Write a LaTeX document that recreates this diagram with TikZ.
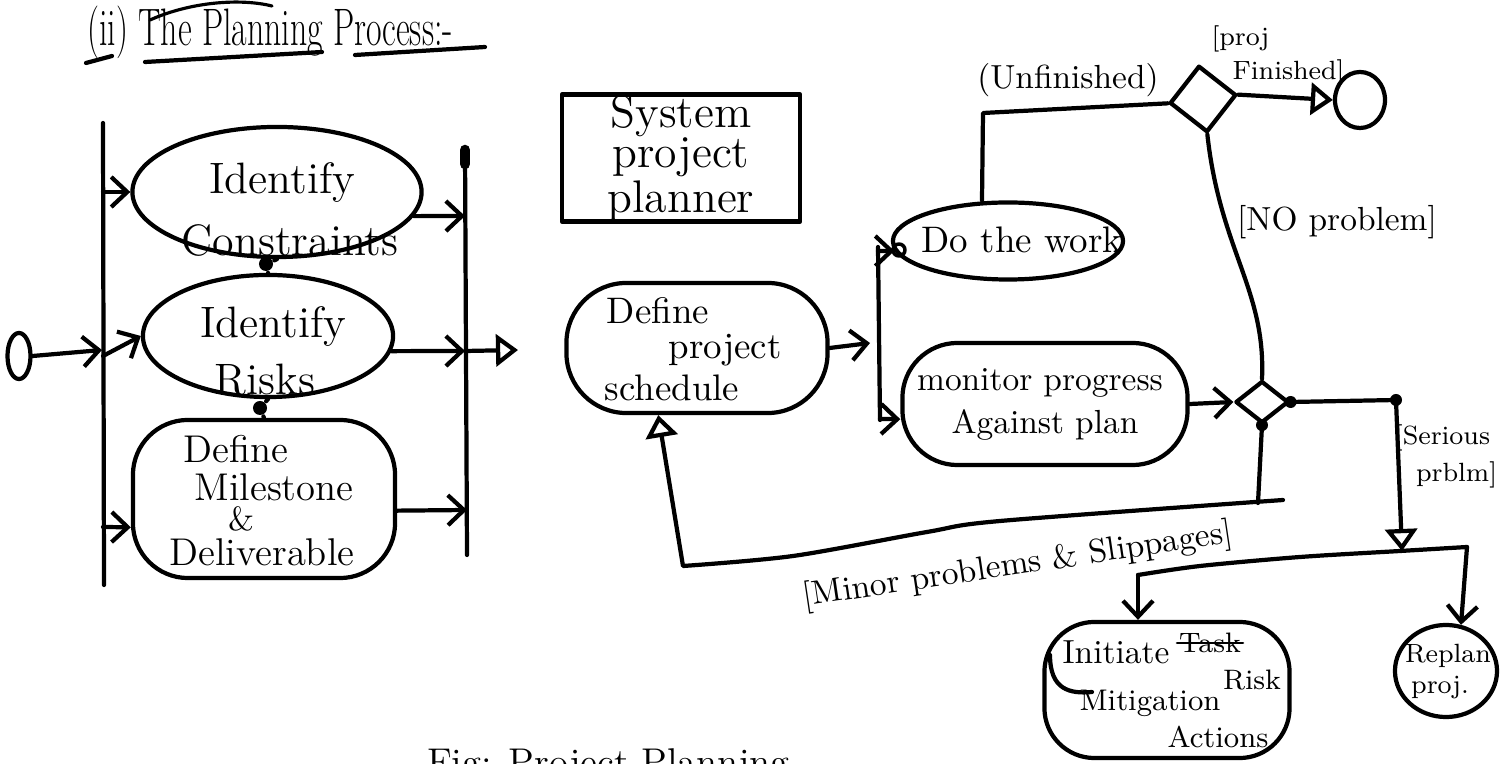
\documentclass[tikz,border=0pt]{standalone}
\usetikzlibrary{arrows.meta,shapes.geometric}
\begin{document}
\begin{tikzpicture}[x=0.01cm,y=-0.01cm,
  line width=1.2pt, line cap=round, line join=round,
  every node/.style={inner sep=0pt},
  arr/.style={-{Straight Barb[length=1.6mm,width=3mm]}},
  tri/.style={-{Triangle[open,length=2.2mm,width=3.2mm]}},
  ell/.style={draw, ellipse},
  act/.style={draw, rectangle, rounded corners=#1},
  txt/.style={font=\fontsize{#1}{#1}\selectfont},
  jdot/.style={circle, fill, minimum size=1.4mm},
]
\useasboundingbox (0,0) rectangle (1502,764);
\clip (0,0) rectangle (1502,764);

% heading
\node[txt=15, xscale=0.64, anchor=base west] (title) at (86,46) {(ii) The Planning Process:-};
\draw (86,63) -- (112,56);
\draw (145,62) -- (322,52);
\draw (355,55) -- (485,47);
\draw[line width=0.9pt] (150,20) .. controls (190,2) and (240,-2) .. (272,6);

% start node and first fork
\node[ell, minimum width=0.23cm, minimum height=0.46cm] (start) at (19,356) {};
\coordinate (fa1) at (103,123);
\coordinate (fa2) at (104,585);
\coordinate (fain) at (102,350);
\draw (fa1) -- (fa2);
\draw[arr] (start.east) -- (fain);

% parallel planning activities
\node[ell, minimum width=2.89cm, minimum height=1.3cm] (idc) at (277,192) {};
\node[txt=12.5] (idct1) at (282,183) {Identify};
\node[txt=12.5] (idct2) at (290,240) {Constraints};

\node[ell, minimum width=2.5cm, minimum height=1.22cm] (idr) at (268,336) {};
\node[txt=12.5] (idrt1) at (273,327) {Identify};
\node[txt=12.5] (idrt2) at (265,380) {Risks};

\node[act=0.55cm, minimum width=2.62cm, minimum height=1.58cm] (dm) at (264,499) {};
\node[txt=11] (dmt1) at (236,449) {Define};
\node[txt=11] (dmt2) at (274,487) {Milestone};
\node[txt=9.5] (dmt3) at (241,519) {\&};
\node[txt=11] (dmt4) at (262,552) {Deliverable};

\coordinate (fac) at (103,192);
\coordinate (far) at (103,356);
\coordinate (fam) at (103,527);
\draw[arr] (fac) -- (idc.west);
\draw[arr] (far) -- (idr.west);
\draw[arr] (fam) -- (dm.192);

\node[jdot] (d1) at (266,264) {};
\node[jdot] (d2) at (260,408) {};
\draw (idc.south) -- (d1) -- (idr.north);
\draw (idr.south) -- (d2) -- (dm.north);

% join bar
\coordinate (jb1) at (465,150);
\coordinate (jb2) at (467,555);
\coordinate (jbc) at (465,216);
\coordinate (jbr) at (465,351);
\coordinate (jbm) at (467,510);
\coordinate (jbout) at (518,350);
\draw (jb1) -- (jb2);
\draw[line width=3pt] (jb1) -- ++(0,14);
\draw[arr] (idc.-10) -- (jbc);
\draw[arr] (idr.-7) -- (jbr);
\draw[arr] (dm.-5) -- (jbm);
\draw[tri] (jbr) -- (jbout);

% planner box
\node[draw, align=center, minimum width=2.38cm, minimum height=1.27cm,
      font=\fontsize{13}{11.5}\selectfont] (spp) at (681,158) {System\\project\\planner};

% schedule
\node[act=0.6cm, minimum width=2.61cm, minimum height=1.3cm] (sch) at (697,348) {};
\node[txt=10.5] (scht1) at (658,311) {Define};
\node[txt=10.5] (scht2) at (725,350) {project};
\node[txt=10.5] (scht3) at (672,388) {schedule};

% second fork
\coordinate (f2in) at (870,343);
\coordinate (f2a) at (878,247);
\coordinate (f2b) at (880,420);
\coordinate (f2w) at (878,251);
\coordinate (f2m) at (880,419);
\draw[arr] (sch.east) -- (f2in);
\draw (f2a) -- (f2b);

\node[ell, minimum width=2.3cm, minimum height=0.77cm] (dw) at (1008,241) {};
\node[txt=10.5] (dwt) at (1022,240) {Do the work};
\draw[line width=1pt] (899,250) circle (6);
\draw[arr] (f2w) -- (dw.185);

\node[act=0.55cm, minimum width=2.85cm, minimum height=1.22cm] (mp) at (1045,404) {};
\node[txt=9.5] (mpt1) at (1040,383) {monitor progress};
\node[txt=9.5] (mpt2) at (1045,425) {Against plan};
\draw[arr] (f2m) -- (mp.186);

% decisions and final node
\node[draw, diamond, minimum width=0.53cm, minimum height=0.42cm] (dB) at (1262,402) {};
\node[draw, diamond, minimum width=0.67cm, minimum height=0.67cm, rotate=7] (dT) at (1203,99) {};
\node[ell, minimum width=0.5cm, minimum height=0.56cm] (fin) at (1360,100) {};

\draw[arr] (mp.east) -- (dB.west);

\coordinate (ux) at (982,0);
\draw (dw.north -| ux) -- (983,113) -- (dT.west);
\node[txt=9.5] (unf) at (1068,80) {(Unfinished)};

\draw[tri] (dT.east) -- (fin.west);
\node[txt=7.5, align=left] (pf) at (1278,56) {[proj\\[2pt]\hspace{6pt}Finished]};

\draw (dT.south) .. controls (1220,250) and (1266,290) .. (dB.north);
\node[txt=9.5] (nop) at (1337,222) {[NO problem]};

% serious problems
\coordinate (sc) at (1396,400);
\coordinate (sb1) at (1138,575);
\coordinate (sb2) at (1467,547);
\coordinate (sbx) at (1402,551);
\draw plot[smooth, tension=0.5] coordinates {(sb1) (1200,566) (1300,557) (1400,551) (sb2)};
\draw[tri] (dB.east) -- (sc) -- (sbx);
\node[jdot, minimum size=1.2mm] (d3) at (dB.east) {};
\node[jdot, minimum size=1.2mm] (d4) at (sc) {};
\node[txt=7.5, align=left] (ser) at (1446,456) {[Serious\\[3pt]\hspace{6pt}prblm]};

% minor problems loop
\coordinate (mj) at (1258,503);
\node[jdot, minimum size=1.2mm] (d5) at (dB.south) {};
\draw (dB.south) -- (mj);
\draw[tri] plot[smooth, tension=0.5] coordinates {(1283,500) (1000,521) (927,532) (793,556) (683,566)} -- (sch.240);
\node[txt=9.5, rotate=8.5] (minor) at (1018,566) {[Minor problems \& Slippages]};

% recovery activities
\node[act=0.5cm, minimum width=2.45cm, minimum height=1.36cm] (ini) at (1167,690) {};
\node[txt=9.5] (init1) at (1116,652) {Initiate};
\node[txt=8] (init2) at (1210,643) {Task};
\draw[line width=0.8pt] (init2.west) -- (init2.east);
\node[txt=8] (init3) at (1252,680) {Risk};
\node[txt=8.5] (init4) at (1150,703) {Mitigation};
\node[txt=8.5] (init5) at (1218,737) {Actions};
\draw (1050,655) .. controls (1050,690) and (1070,694) .. (1092,692);

\node[ell, minimum width=1.02cm, minimum height=0.92cm] (rep) at (1446,671) {};
\node[txt=7.5] (rept1) at (1448,656) {Replan};
\node[txt=7.5] (rept2) at (1440,688) {proj.};

\draw[arr] (sb1) -- (sb1 |- ini.north);
\draw[arr] (sb2) -- (rep.72);

% caption
\node[txt=11, anchor=base west] (cap) at (425,776) {Fig: Project Planning};
\end{tikzpicture}
\end{document}
